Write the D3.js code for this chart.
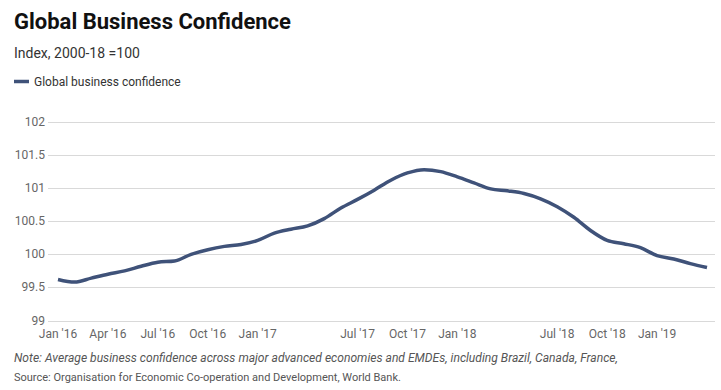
<!DOCTYPE html>
<html>
<head>
<meta charset="utf-8">
<script src="https://cdn.jsdelivr.net/npm/d3@7"></script>
<style>
  body { margin:0; background:#fff; font-family: Roboto, "Noto Sans", sans-serif; }
  svg text { font-family: Roboto, "Noto Sans", sans-serif; }
</style>
</head>
<body>
<svg id="chart" width="721" height="390"></svg>
<script>
// monthly, Jan 2016 .. Apr 2019
var months = ["2016-01","2016-02","2016-03","2016-04","2016-05","2016-06","2016-07","2016-08","2016-09","2016-10","2016-11","2016-12",
  "2017-01","2017-02","2017-03","2017-04","2017-05","2017-06","2017-07","2017-08","2017-09","2017-10","2017-11","2017-12",
  "2018-01","2018-02","2018-03","2018-04","2018-05","2018-06","2018-07","2018-08","2018-09","2018-10","2018-11","2018-12",
  "2019-01","2019-02","2019-03","2019-04"];
var confidence = [99.62,99.58,99.64,99.70,99.75,99.82,99.88,99.90,100.00,100.07,100.12,100.15,
  100.21,100.32,100.38,100.43,100.54,100.70,100.83,100.97,101.12,101.23,101.28,101.25,
  101.17,101.08,100.99,100.96,100.92,100.84,100.72,100.56,100.36,100.21,100.16,100.10,
  99.98,99.93,99.86,99.80];
var yTicks = [99,99.5,100,100.5,101,101.5,102];
var xTickMonths = ["2016-01","2016-04","2016-07","2016-10","2017-01","2017-07","2017-10","2018-01","2018-07","2018-10","2019-01"];
var xTickLabels = ["Jan '16","Apr '16","Jul '16","Oct '16","Jan '17","Jul '17","Oct '17","Jan '18","Jul '18","Oct '18","Jan '19"];

var svg = d3.select("#chart")
var lineColor = "#3f5279"

//titulos
svg.append("text").attr("x",14).attr("y",29)
  .style("font-size","22px").style("font-weight","bold").attr("fill","#111")
  .text("Global Business Confidence")
svg.append("text").attr("x",14).attr("y",58)
  .style("font-size","14px").attr("fill","#333")
  .text("Index, 2000-18 =100")

//leyenda
svg.append("line").attr("x1",14).attr("x2",29).attr("y1",81.5).attr("y2",81.5)
  .attr("stroke",lineColor).attr("stroke-width",3.5)
svg.append("text").attr("x",34).attr("y",85.5)
  .style("font-size","12px").attr("fill","#333")
  .text("Global business confidence")

var x = d3.scalePoint().domain(months).range([58,707])
var y = d3.scaleLinear().domain([99,102]).range([320.5,122])

//grid + eje y
var grid = svg.append("g")
grid.selectAll("line").data(yTicks).enter().append("line")
  .attr("x1",48).attr("x2",715)
  .attr("y1",function(d){ return Math.round(y(d))+0.5 })
  .attr("y2",function(d){ return Math.round(y(d))+0.5 })
  .attr("stroke","#d9d9d9").attr("stroke-width",1)
grid.selectAll("text").data(yTicks).enter().append("text")
  .attr("x",45).attr("y",function(d){ return y(d)+4 })
  .attr("text-anchor","end")
  .style("font-size","12px").attr("fill","#666")
  .text(function(d){ return d })

//eje x
svg.append("g").selectAll("text").data(xTickMonths).enter().append("text")
  .attr("x",function(d){ return x(d) })
  .attr("y",338)
  .attr("text-anchor","middle")
  .style("font-size","12px").attr("fill","#666")
  .text(function(d,i){ return xTickLabels[i] })

//linea
var line = d3.line()
  .x(function(d,i){ return x(months[i]) })
  .y(function(d){ return y(d) })
  .curve(d3.curveMonotoneX)
svg.append("path").datum(confidence)
  .attr("d",line)
  .attr("fill","none")
  .attr("stroke",lineColor)
  .attr("stroke-width",3.5)
  .attr("stroke-linejoin","round")

//notas
svg.append("text").attr("x",14).attr("y",362)
  .style("font-size","12.1px").style("font-style","italic").attr("fill","#555")
  .text("Note: Average business confidence across major advanced economies and EMDEs, including Brazil, Canada, France,")
svg.append("text").attr("x",14).attr("y",381)
  .style("font-size","11px").attr("fill","#555")
  .text("Source: Organisation for Economic Co-operation and Development, World Bank.")
</script>
</body>
</html>
